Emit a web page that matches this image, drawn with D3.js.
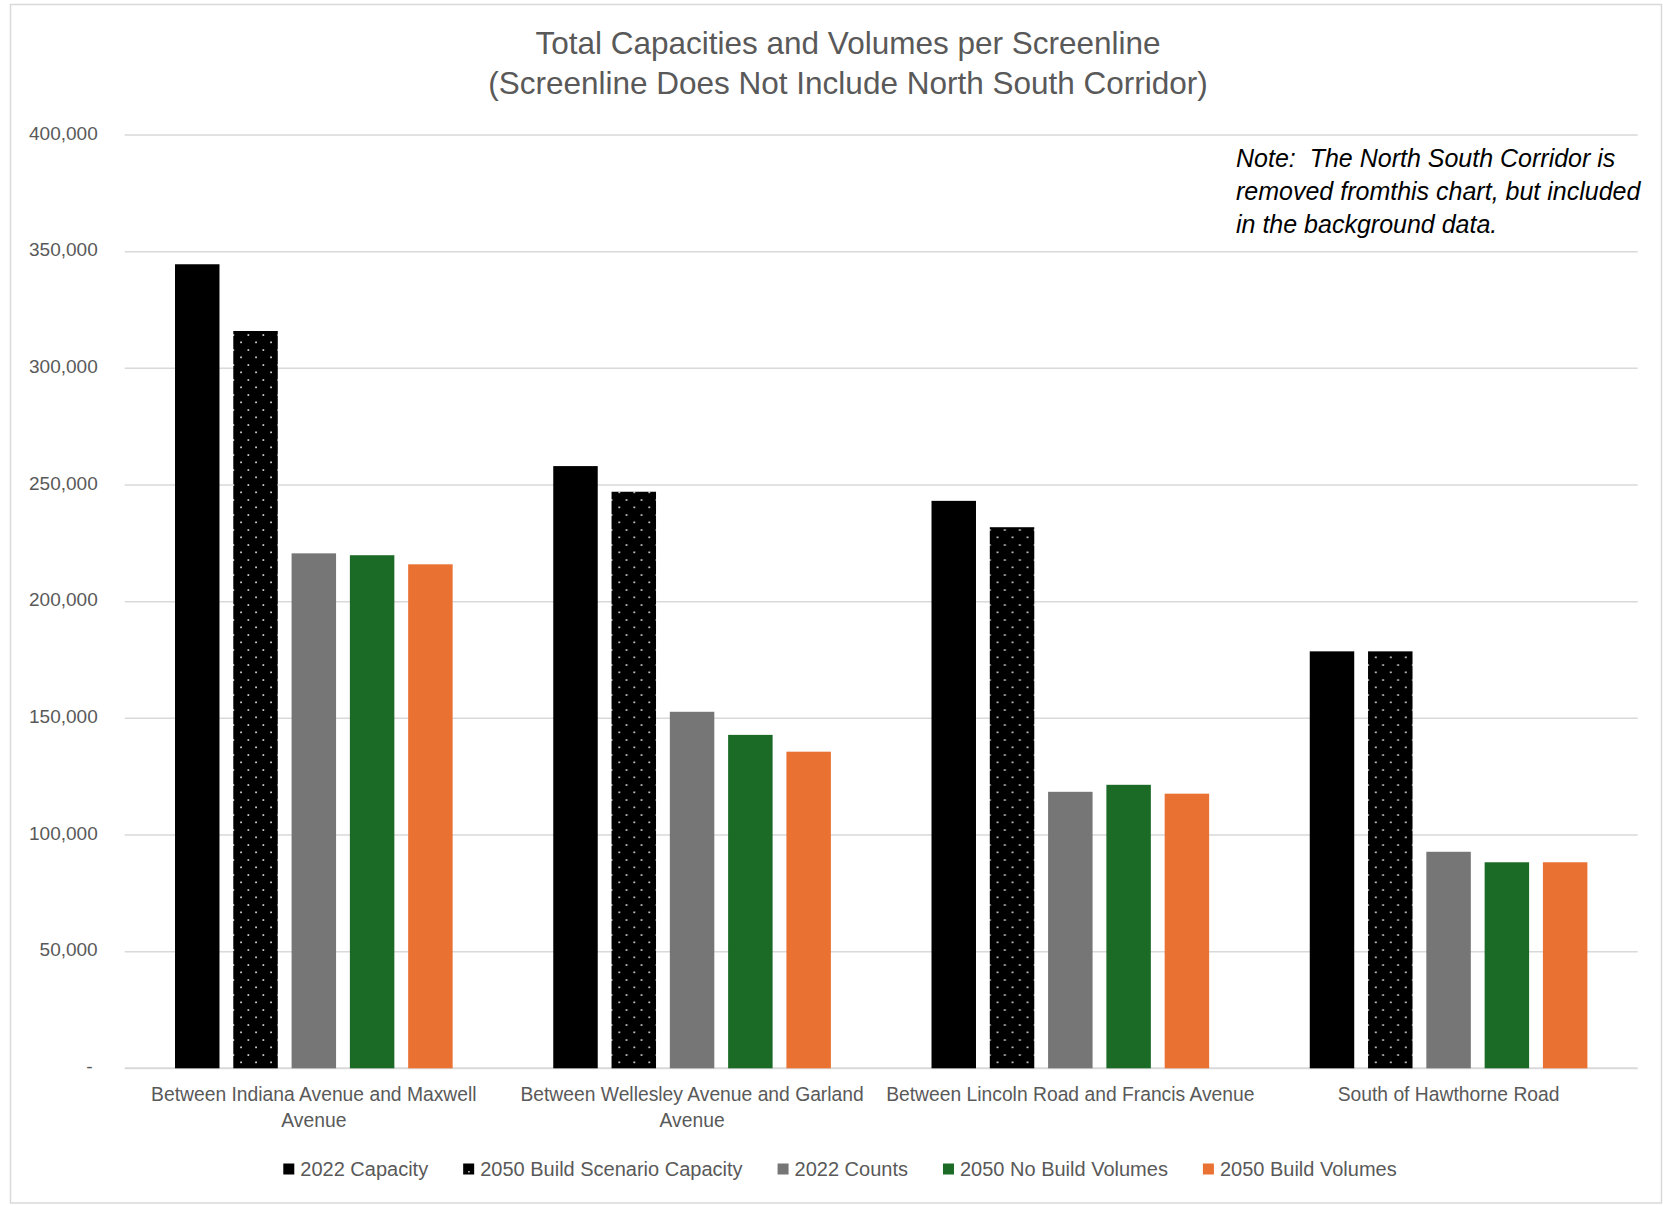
<!DOCTYPE html>
<html>
<head>
<meta charset="utf-8">
<script src="https://cdn.jsdelivr.net/npm/d3@7"></script>
<style>
  html, body { margin: 0; padding: 0; background: #fff; }
  svg { display: block; font-family: "Liberation Sans", Arial, sans-serif; }
</style>
</head>
<body>
<svg id="chart" width="1663" height="1206"></svg>
<script>
// ---------- data ----------
const titleLines = ["Total Capacities and Volumes per Screenline", "(Screenline Does Not Include North South Corridor)"];
const noteLines = ["Note:  The North South Corridor is", "removed fromthis chart, but included", "in the background data."];
const categories = [
  "Between Indiana Avenue and Maxwell Avenue",
  "Between Wellesley Avenue and Garland Avenue",
  "Between Lincoln Road and Francis Avenue",
  "South of Hawthorne Road"
];
const seriesNames = ["2022 Capacity", "2050 Build Scenario Capacity", "2022 Counts", "2050 No Build Volumes", "2050 Build Volumes"];
const capacity2022   = [344600, 258100, 243200, 178700];
const capacity2050   = [316000, 247100, 231900, 178700];
const counts2022     = [220700, 152800, 118500, 92800];
const noBuild2050    = [219900, 142900, 121500, 88300];
const build2050      = [216000, 135700, 117700, 88300];
const yTickValues    = [0, 50000, 100000, 150000, 200000, 250000, 300000, 350000, 400000];

const seriesValues = [capacity2022, capacity2050, counts2022, noBuild2050, build2050];
const seriesFills = ["#000000", "url(#dots)", "#767676", "#1b6b26", "#e97132"];

// ---------- layout ----------
const W = 1663, H = 1206;
const plot = { left: 124.7, right: 1637.7, top: 135, bottom: 1068.3 };
const textGray = "#595959";
const gridGray = "#d9d9d9";

const svg = d3.select("#chart");
svg.append("rect").attr("width", W).attr("height", H).attr("fill", "#fff");

// dotted pattern
const defs = svg.append("defs");
const pat = defs.append("pattern").attr("id", "dots")
  .attr("patternUnits", "userSpaceOnUse").attr("width", 15).attr("height", 15);
pat.append("rect").attr("width", 15).attr("height", 15).attr("fill", "#000");
pat.append("rect").attr("x", 12.5).attr("y", 4.2).attr("width", 1.7).attr("height", 1.7).attr("fill", "#d8d8d8");
pat.append("rect").attr("x", 5.2).attr("y", 11.5).attr("width", 1.7).attr("height", 1.7).attr("fill", "#d8d8d8");

// chart border
svg.append("rect").attr("x", 10.5).attr("y", 4.5).attr("width", W - 12).attr("height", 1198.5)
  .attr("fill", "none").attr("stroke", gridGray).attr("stroke-width", 1.5);

// scales
const y = d3.scaleLinear().domain([0, 400000]).range([plot.bottom, plot.top]);
const x0 = d3.scaleBand().domain(categories).range([plot.left, plot.right])
  .paddingInner(0.266).paddingOuter(0.133);
const x1 = d3.scaleBand().domain(seriesNames).range([0, x0.bandwidth()])
  .paddingInner(0.237).paddingOuter(0);

// gridlines
svg.append("g").selectAll("line").data(yTickValues).join("line")
  .attr("x1", plot.left).attr("x2", plot.right)
  .attr("y1", d => y(d)).attr("y2", d => y(d))
  .attr("stroke", gridGray).attr("stroke-width", d => d === 0 ? 2 : 1.5);

// y axis labels
const fmt = d3.format(",");
const yAxis = svg.append("g").attr("transform", `translate(${plot.left - 27},-2)`)
  .call(d3.axisLeft(y).tickValues(yTickValues).tickSize(0).tickPadding(0)
    .tickFormat(d => d === 0 ? "-" : fmt(d)));
yAxis.select(".domain").remove();
yAxis.selectAll("text").attr("fill", textGray).attr("font-size", "19px")
  .attr("font-family", "'Liberation Sans', Arial, sans-serif")
  .attr("dx", d => d === 0 ? -5 : 0);

// bars
const groups = svg.append("g").selectAll("g").data(categories).join("g")
  .attr("transform", d => `translate(${x0(d)},0)`);
groups.selectAll("rect").data((c, ci) => seriesNames.map((s, si) => ({ s, si, v: seriesValues[si][ci] })))
  .join("rect")
  .attr("x", d => x1(d.s))
  .attr("width", x1.bandwidth())
  .attr("y", d => y(d.v))
  .attr("height", d => y(0) - y(d.v))
  .attr("fill", d => seriesFills[d.si]);

// x axis labels (wrapped to the category width)
const xAxis = svg.append("g").attr("transform", `translate(0,${plot.bottom})`)
  .call(d3.axisBottom(x0).tickSize(0).tickPadding(0));
xAxis.select(".domain").remove();
xAxis.selectAll("text").each(function(d) {
  const t = d3.select(this);
  t.text(null).attr("fill", textGray).attr("font-size", "19.3px")
    .attr("font-family", "'Liberation Sans', Arial, sans-serif").attr("y", 0);
  const words = d.split(" ");
  const maxW = x0.step() - 4;
  let lines = [], cur = [];
  const probe = t.append("tspan");
  words.forEach(w => {
    const test = cur.concat([w]).join(" ");
    probe.text(test);
    if (probe.node().getComputedTextLength() > maxW && cur.length) {
      lines.push(cur.join(" ")); cur = [w];
    } else cur.push(w);
  });
  lines.push(cur.join(" "));
  probe.remove();
  lines.forEach((ln, i) => {
    t.append("tspan").attr("x", 0).attr("y", 32.5 + i * 26.5).text(ln);
  });
});
xAxis.selectAll("text").attr("dy", null);

// title
const title = svg.append("text").attr("text-anchor", "middle")
  .attr("fill", textGray).attr("font-size", "31.5px");
titleLines.forEach((ln, i) => {
  title.append("tspan").attr("x", 848).attr("y", 53.5 + i * 40).text(ln);
});

// note
const note = svg.append("text").attr("fill", "#000").attr("font-size", "25px")
  .attr("font-style", "italic").style("white-space", "pre").attr("xml:space", "preserve");
noteLines.forEach((ln, i) => {
  note.append("tspan").attr("x", 1236).attr("y", 166.5 + i * 33).text(ln);
});

// legend
const legend = svg.append("g");
const items = legend.selectAll("g").data(seriesNames).join("g");
items.append("rect").attr("width", 11).attr("height", 11).attr("y", -5.5)
  .attr("fill", (d, i) => i === 1 ? "#000" : seriesFills[i]);
items.filter((d, i) => i === 1).append("rect").attr("x", 5).attr("y", 2).attr("width", 1.5).attr("height", 1.5).attr("fill", "#d8d8d8");
items.append("text").attr("x", 17).attr("dy", "0.35em").attr("fill", textGray).attr("font-size", "20px").text(d => d);
const widths = [];
items.each(function() {
  const w = 17 + d3.select(this).select("text").node().getComputedTextLength();
  widths.push(w);
});
const gap = 35;
const totalW = d3.sum(widths) + gap * (widths.length - 1);
let cx = 840 - totalW / 2;
items.attr("transform", (d, i) => {
  const tx = cx; cx += widths[i] + gap;
  return `translate(${tx},1169)`;
});
</script>
</body>
</html>
